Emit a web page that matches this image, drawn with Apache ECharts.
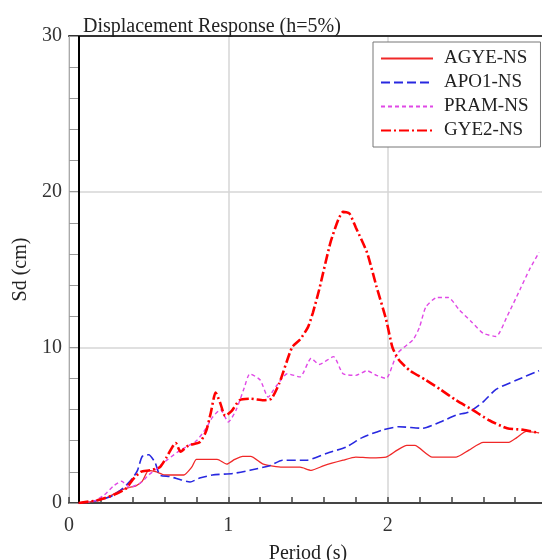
<!DOCTYPE html>
<html>
<head>
<meta charset="utf-8">
<script src="https://cdn.jsdelivr.net/npm/echarts@6/dist/echarts.min.js"></script>
<style>html,body{margin:0;padding:0;background:#fff}#c{width:542px;height:560px}</style>
</head>
<body>
<div id="c"></div>
<script>
// ---- data (Period s, Sd cm) ----
const xTicks = [0, 1, 2, 3];
const yTicks = [0, 10, 20, 30];
const seriesNames = ['AGYE-NS', 'APO1-NS', 'PRAM-NS', 'GYE2-NS'];

const periodAGYE = [0.06,0.15,0.25,0.32,0.38,0.42,0.46,0.50,0.55,0.60,0.66,0.72,0.77,0.80,0.87,0.93,0.99,1.04,1.09,1.14,1.22,1.34,1.45,1.52,1.60,1.72,1.80,1.89,1.99,2.06,2.12,2.17,2.28,2.43,2.51,2.60,2.76,2.81,2.87,2.95];
const sdAGYE     = [0,0.1,0.4,0.8,1.0,1.1,1.4,2.1,2.0,1.8,1.8,1.8,2.3,2.8,2.8,2.8,2.5,2.8,3.0,3.0,2.5,2.3,2.3,2.1,2.4,2.75,2.95,2.9,2.95,3.4,3.7,3.7,2.95,2.95,3.4,3.9,3.9,4.2,4.6,4.5];

const periodAPO1 = [0.06,0.15,0.26,0.32,0.36,0.40,0.43,0.46,0.50,0.54,0.57,0.63,0.70,0.76,0.82,0.90,1.03,1.135,1.26,1.34,1.49,1.62,1.74,1.84,1.97,2.07,2.22,2.33,2.43,2.51,2.60,2.68,2.81,2.95];
const sdAPO1     = [0,0.1,0.4,0.8,1.15,1.6,2.1,3.0,3.1,2.6,1.8,1.7,1.5,1.35,1.6,1.8,1.9,2.1,2.4,2.75,2.75,3.2,3.6,4.2,4.7,4.9,4.8,5.2,5.65,5.85,6.5,7.3,7.9,8.5];

const periodPRAM = [0.06,0.15,0.22,0.28,0.33,0.38,0.45,0.50,0.55,0.62,0.70,0.80,0.86,0.90,0.95,1.00,1.05,1.10,1.135,1.20,1.25,1.30,1.37,1.45,1.52,1.57,1.66,1.72,1.80,1.87,1.93,1.99,2.06,2.16,2.20,2.24,2.31,2.38,2.45,2.53,2.60,2.68,2.75,2.83,2.89,2.95];
const sdPRAM     = [0,0.1,0.5,1.1,1.4,1.0,1.3,1.8,2.2,2.8,3.4,4.0,4.8,5.5,6.0,5.2,6.0,7.4,8.3,7.9,6.8,7.5,8.3,8.1,9.3,8.9,9.4,8.3,8.2,8.5,8.2,8.0,9.6,10.5,11.3,12.6,13.2,13.2,12.4,11.6,10.9,10.7,12.0,13.7,15.0,16.1];

const periodGYE2 = [0.06,0.19,0.30,0.36,0.40,0.45,0.51,0.57,0.61,0.67,0.70,0.75,0.82,0.86,0.89,0.92,0.95,0.98,1.02,1.07,1.14,1.22,1.27,1.32,1.40,1.45,1.50,1.53,1.57,1.64,1.69,1.72,1.76,1.80,1.87,1.93,1.99,2.03,2.07,2.14,2.24,2.33,2.43,2.53,2.64,2.75,2.85,2.95];
const sdGYE2     = [0,0.2,0.6,0.95,1.5,2.0,2.1,2.3,2.9,3.85,3.3,3.7,3.9,4.6,5.8,7.1,6.4,5.6,5.9,6.6,6.7,6.6,6.7,7.7,10.0,10.5,11.3,12.2,13.7,16.7,18.2,18.7,18.6,17.7,16.1,13.9,11.8,10.0,9.2,8.5,7.9,7.3,6.6,6.0,5.3,4.8,4.7,4.5];

const frameLineT = 0.057; // vertical black frame line position (period)

function pairs(xs, ys) { return xs.map((x, i) => [x, ys[i]]); }

const FONT = '"Liberation Serif", "Times New Roman", serif';
const chart = echarts.init(document.getElementById('c'), null, {renderer: 'canvas'});

const styles = [
  {color: '#f02828', width: 1.3, type: 'solid'},
  {color: '#2828e0', width: 1.6, type: [9, 4]},
  {color: '#e048e6', width: 1.4, type: [4, 3]},
  {color: '#ff0000', width: 2.6, type: [10, 3, 2, 3]}
];
const datasets = [
  pairs(periodAGYE, sdAGYE),
  pairs(periodAPO1, sdAPO1),
  pairs(periodPRAM, sdPRAM),
  pairs(periodGYE2, sdGYE2)
];

chart.setOption({
  animation: false,
  backgroundColor: '#fff',
  title: {
    text: 'Displacement Response (h=5%)',
    left: 78, top: 12,
    textStyle: {fontFamily: FONT, fontSize: 20, fontWeight: 'normal', color: '#222'}
  },
  legend: {
    data: seriesNames,
    orient: 'vertical',
    left: 373, top: 42,
    padding: [7, 12, 7, 7],
    itemWidth: 52, itemHeight: 14, itemGap: 5,
    backgroundColor: '#fff',
    borderColor: '#777', borderWidth: 1,
    itemStyle: {color: 'rgba(0,0,0,0)', borderWidth: 0, opacity: 0},
    textStyle: {fontFamily: FONT, fontSize: 19, color: '#222', padding: [0, 0, 0, 6]}
  },
  grid: {left: 69, top: 36, width: 478, bottom: 57, outerBoundsMode: 'none', containLabel: false},
  xAxis: [{
    type: 'value', min: 0, max: 3, interval: 1,
    axisLine: {lineStyle: {color: '#444', width: 2}},
    axisTick: {inside: true, length: 6, lineStyle: {color: '#444', width: 1.5}},
    minorTick: {show: true, splitNumber: 5, length: 6, lineStyle: {color: '#444', width: 1.5}},
    splitLine: {show: true, lineStyle: {color: '#d6d6d6', width: 1.5}},
    axisLabel: {fontFamily: FONT, fontSize: 20, color: '#333', margin: 13,
      formatter: v => xTicks.includes(v) ? String(v) : ''},
    name: 'Period (s)', nameLocation: 'middle', nameGap: 41,
    nameTextStyle: {fontFamily: FONT, fontSize: 20, color: '#222'}
  }, {
    type: 'value', min: 0, max: 3, position: 'top',
    axisLine: {show: true, lineStyle: {color: '#333', width: 2}},
    axisTick: {show: false}, axisLabel: {show: false}, splitLine: {show: false}
  }],
  yAxis: [{
    type: 'value', min: 0, max: 30, interval: 10,
    axisLine: {show: true, lineStyle: {color: '#aaa', width: 1}},
    axisTick: {show: true, inside: true, length: 9, lineStyle: {color: '#999'}},
    minorTick: {show: true, splitNumber: 5, length: 9, lineStyle: {color: '#999'}},
    splitLine: {show: true, lineStyle: {color: '#d6d6d6', width: 1.5}},
    axisLabel: {fontFamily: FONT, fontSize: 20, color: '#333', margin: 7,
      formatter: v => yTicks.includes(v) ? String(v) : ''},
    name: 'Sd (cm)', nameLocation: 'middle', nameGap: 29,
    nameTextStyle: {fontFamily: FONT, fontSize: 20, color: '#222'}
  }],
  series: seriesNames.map((name, i) => ({
    name, type: 'line', data: datasets[i],
    symbol: 'none', smooth: 0.2,
    lineStyle: {color: styles[i].color, width: styles[i].width, type: styles[i].type},
    itemStyle: {color: styles[i].color},
    z: i === 3 ? 5 : 3,
    markLine: i === 0 ? {
      silent: true, symbol: 'none', label: {show: false},
      lineStyle: {color: '#000', width: 2, type: 'solid'},
      data: [{xAxis: frameLineT}]
    } : undefined
  }))
});
</script>
</body>
</html>
